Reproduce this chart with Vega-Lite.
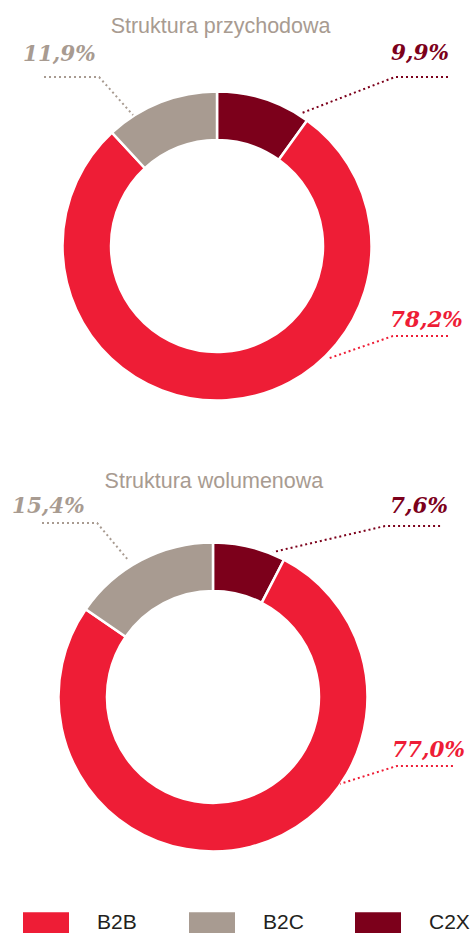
{
  "$schema": "https://vega.github.io/schema/vega-lite/v6.json",
  "padding": 0,
  "spacing": 0,
  "bounds": "flush",
  "background": "white",
  "config": {
    "view": {"stroke": null},
    "axis": {"disable": true},
    "legend": {
      "orient": "none",
      "legendX": 23,
      "legendY": 899.5,
      "direction": "horizontal",
      "padding": 0,
      "symbolType": "M-1,-0.4565H1V0.4565H-1Z",
      "symbolSize": 2116,
      "symbolStrokeWidth": 0,
      "labelFont": "Liberation Sans",
      "labelFontSize": 21,
      "labelColor": "#231f20",
      "labelOffset": 28,
      "columnPadding": 51,
      "gridAlign": "all"
    }
  },
  "datasets": {
    "slices1": [
      {"category": "C2X", "value": 9.9, "rank": 1},
      {"category": "B2B", "value": 78.2, "rank": 2},
      {"category": "B2C", "value": 11.9, "rank": 3}
    ],
    "slices2": [
      {"category": "C2X", "value": 7.6, "rank": 1},
      {"category": "B2B", "value": 77.0, "rank": 2},
      {"category": "B2C", "value": 15.4, "rank": 3}
    ],
    "labels1": [
      {"category": "B2C", "text": "11,9%", "x": -1.252, "y": 1.194},
      {"category": "C2X", "text": "9,9%", "x": 1.123, "y": 1.2},
      {"category": "B2B", "text": "78,2%", "x": 1.116, "y": -0.523}
    ],
    "labels2": [
      {"category": "B2C", "text": "15,4%", "x": -1.297, "y": 1.187},
      {"category": "C2X", "text": "7,6%", "x": 1.142, "y": 1.187},
      {"category": "B2B", "text": "77,0%", "x": 1.155, "y": -0.387}
    ],
    "leaders1": [
      {"category": "B2C", "seq": 1, "x": -1.116, "y": 1.09},
      {"category": "B2C", "seq": 2, "x": -0.761, "y": 1.09},
      {"category": "B2C", "seq": 3, "x": -0.542, "y": 0.845},
      {"category": "C2X", "seq": 1, "x": 1.49, "y": 1.09},
      {"category": "C2X", "seq": 2, "x": 1.148, "y": 1.09},
      {"category": "C2X", "seq": 3, "x": 0.548, "y": 0.858},
      {"category": "B2B", "seq": 1, "x": 1.49, "y": -0.581},
      {"category": "B2B", "seq": 2, "x": 1.135, "y": -0.581},
      {"category": "B2B", "seq": 3, "x": 0.71, "y": -0.729}
    ],
    "leaders2": [
      {"category": "B2C", "seq": 1, "x": -1.103, "y": 1.123},
      {"category": "B2C", "seq": 2, "x": -0.748, "y": 1.123},
      {"category": "B2C", "seq": 3, "x": -0.548, "y": 0.884},
      {"category": "C2X", "seq": 1, "x": 1.465, "y": 1.103},
      {"category": "C2X", "seq": 2, "x": 1.11, "y": 1.103},
      {"category": "C2X", "seq": 3, "x": 0.387, "y": 0.935},
      {"category": "B2B", "seq": 1, "x": 1.548, "y": -0.445},
      {"category": "B2B", "seq": 2, "x": 1.187, "y": -0.445},
      {"category": "B2B", "seq": 3, "x": 0.819, "y": -0.561}
    ],
    "titles1": [{"text": "Struktura przychodowa", "x": 0.023, "y": 1.377}],
    "titles2": [{"text": "Struktura wolumenowa", "x": 0.006, "y": 1.348}]
  },
  "vconcat": [
    {
      "width": 472,
      "height": 460,
      "layer": [
        {
          "data": {"name": "slices1"},
          "mark": {"type": "arc", "radius": 154.5, "radius2": 106, "stroke": "white", "strokeWidth": 2.5},
          "encoding": {
            "theta": {"field": "value", "type": "quantitative", "stack": true},
            "order": {"field": "rank", "type": "quantitative"},
            "color": {
              "field": "category", "type": "nominal",
              "scale": {"domain": ["B2B", "B2C", "C2X"], "range": ["#ee1d36", "#a89b91", "#7c001b"]},
              "legend": {"title": null}
            },
            "x": {"datum": 0, "type": "quantitative", "scale": {"domain": [-1.4, 1.645], "nice": false, "zero": false}},
            "y": {"datum": 0, "type": "quantitative", "scale": {"domain": [-1.381, 1.587], "nice": false, "zero": false}}
          }
        },
        {
          "data": {"name": "leaders1"},
          "mark": {"type": "line", "strokeWidth": 2, "strokeDash": [2, 3], "strokeCap": "butt"},
          "encoding": {
            "x": {"field": "x", "type": "quantitative", "scale": {"domain": [-1.4, 1.645], "nice": false, "zero": false}},
            "y": {"field": "y", "type": "quantitative", "scale": {"domain": [-1.381, 1.587], "nice": false, "zero": false}},
            "order": {"field": "seq", "type": "quantitative"},
            "color": {"field": "category", "type": "nominal", "legend": null}
          }
        },
        {
          "data": {"name": "labels1"},
          "mark": {"type": "text", "font": "DejaVu Serif", "fontStyle": "italic", "fontWeight": "bold", "fontSize": 21.5, "align": "left", "baseline": "alphabetic"},
          "encoding": {
            "x": {"field": "x", "type": "quantitative", "scale": {"domain": [-1.4, 1.645], "nice": false, "zero": false}},
            "y": {"field": "y", "type": "quantitative", "scale": {"domain": [-1.381, 1.587], "nice": false, "zero": false}},
            "text": {"field": "text", "type": "nominal"},
            "color": {"field": "category", "type": "nominal", "legend": null}
          }
        },
        {
          "data": {"name": "titles1"},
          "mark": {"type": "text", "font": "Liberation Sans", "fontSize": 21.5, "align": "center", "baseline": "alphabetic", "color": "#a89b91"},
          "encoding": {
            "x": {"field": "x", "type": "quantitative", "scale": {"domain": [-1.4, 1.645], "nice": false, "zero": false}},
            "y": {"field": "y", "type": "quantitative", "scale": {"domain": [-1.381, 1.587], "nice": false, "zero": false}},
            "text": {"field": "text", "type": "nominal"}
          }
        }
      ]
    },
    {
      "width": 472,
      "height": 473,
      "layer": [
        {
          "data": {"name": "slices2"},
          "mark": {"type": "arc", "radius": 154.5, "radius2": 106, "stroke": "white", "strokeWidth": 2.5},
          "encoding": {
            "theta": {"field": "value", "type": "quantitative", "stack": true},
            "order": {"field": "rank", "type": "quantitative"},
            "color": {"field": "category", "type": "nominal", "legend": null},
            "x": {"datum": 0, "type": "quantitative", "scale": {"domain": [-1.374, 1.671], "nice": false, "zero": false}},
            "y": {"datum": 0, "type": "quantitative", "scale": {"domain": [-1.523, 1.529], "nice": false, "zero": false}}
          }
        },
        {
          "data": {"name": "leaders2"},
          "mark": {"type": "line", "strokeWidth": 2, "strokeDash": [2, 3], "strokeCap": "butt"},
          "encoding": {
            "x": {"field": "x", "type": "quantitative", "scale": {"domain": [-1.374, 1.671], "nice": false, "zero": false}},
            "y": {"field": "y", "type": "quantitative", "scale": {"domain": [-1.523, 1.529], "nice": false, "zero": false}},
            "order": {"field": "seq", "type": "quantitative"},
            "color": {"field": "category", "type": "nominal", "legend": null}
          }
        },
        {
          "data": {"name": "labels2"},
          "mark": {"type": "text", "font": "DejaVu Serif", "fontStyle": "italic", "fontWeight": "bold", "fontSize": 21.5, "align": "left", "baseline": "alphabetic"},
          "encoding": {
            "x": {"field": "x", "type": "quantitative", "scale": {"domain": [-1.374, 1.671], "nice": false, "zero": false}},
            "y": {"field": "y", "type": "quantitative", "scale": {"domain": [-1.523, 1.529], "nice": false, "zero": false}},
            "text": {"field": "text", "type": "nominal"},
            "color": {"field": "category", "type": "nominal", "legend": null}
          }
        },
        {
          "data": {"name": "titles2"},
          "mark": {"type": "text", "font": "Liberation Sans", "fontSize": 21.5, "align": "center", "baseline": "alphabetic", "color": "#a89b91"},
          "encoding": {
            "x": {"field": "x", "type": "quantitative", "scale": {"domain": [-1.374, 1.671], "nice": false, "zero": false}},
            "y": {"field": "y", "type": "quantitative", "scale": {"domain": [-1.523, 1.529], "nice": false, "zero": false}},
            "text": {"field": "text", "type": "nominal"}
          }
        }
      ]
    }
  ],
  "resolve": {"scale": {"x": "independent", "y": "independent", "color": "shared"}, "legend": {"color": "shared"}}
}
